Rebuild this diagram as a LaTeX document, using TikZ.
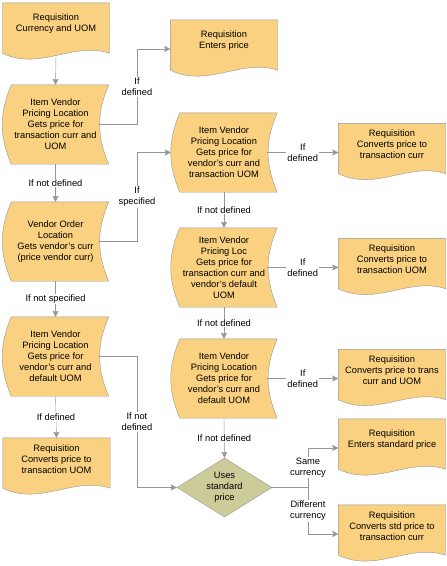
\documentclass[tikz,border=0pt]{standalone}
\usepackage{fontspec}
\setmainfont{Liberation Sans}
\usetikzlibrary{arrows.meta,shapes.geometric,backgrounds}

\definecolor{boxfill}{RGB}{250,209,128}
\definecolor{decfill}{RGB}{204,204,153}
\definecolor{edgegray}{RGB}{150,150,150}

\begin{document}
\begin{tikzpicture}[x=1pt, y=-1pt,
  every node/.style={font=\fontsize{9.3}{11}\selectfont, align=center},
  proc/.style={minimum width=106, minimum height=79, inner sep=0},
  doc/.style={minimum width=107, minimum height=42, inner sep=0},
  dec/.style={diamond, draw=edgegray, fill=decfill, minimum width=95, minimum height=59, inner sep=-1.5pt, aspect=1.6},
  lbl/.style={fill=white, inner sep=1pt},
  flow/.style={draw=edgegray, -{Stealth[length=6pt,width=6pt,inset=1pt]}},
  outline/.style={draw=edgegray, fill=boxfill}]
\useasboundingbox (0,0) rectangle (447,566);
% left column
\node[doc] (d1) at (56,24) {Requisition\\Currency and UOM};
\node[proc] (p1) at (55.5,124.5) {Item Vendor\\Pricing Location\\Gets price for\\transaction curr and\\UOM};
\node[proc] (p2) at (55.5,241.5) {Vendor Order\\Location\\Gets vendor's curr\\(price vendor curr)};
\node[proc] (p3) at (55.5,356.5) {Item Vendor\\Pricing Location\\Gets price for\\vendor's curr and\\default UOM};
\node[doc] (d8) at (56.5,459) {Requisition\\Converts price to\\transaction UOM};
% middle column
\node[doc] (d2) at (224,41) {Requisition\\Enters price};
\node[proc] (p4) at (224,152.5) {Item Vendor\\Pricing Location\\Gets price for\\vendor's curr and\\transaction UOM};
\node[proc] (p5) at (224,267.5) {Item Vendor\\Pricing Loc\\Gets price for\\transaction curr and\\vendor's default\\UOM};
\node[proc] (p6) at (224,378.5) {Item Vendor\\Pricing Location\\Gets price for\\vendor's curr and\\default UOM};
\node[dec] (dia) at (224.5,487.5) {Uses\\standard\\price};
% right column
\node[doc] (d3) at (392,144.5) {Requisition\\Converts price to\\transaction curr};
\node[doc] (d4) at (392,259.5) {Requisition\\Converts price to\\transaction UOM};
\node[doc] (d5) at (392,370.5) {Requisition\\Converts price to trans\\curr and UOM};
\node[doc] (d6) at (392,440) {Requisition\\Enters standard price};
\node[doc] (d7) at (392,526) {Requisition\\Converts std price to\\transaction curr};
\coordinate (jx) at (137,0);
\coordinate (br) at (308,0);

% shapes behind the texts
\begin{pgfonlayer}{background}
\foreach \n in {p1,p2,p3,p4,p5,p6}
  \path[outline] ([xshift=9]\n.north west) -- (\n.north east) to[bend right=23] (\n.south east)
    -- ([xshift=9]\n.south west) to[bend left=23] ([xshift=9]\n.north west) -- cycle;
\foreach \n in {d1,d2,d3,d4,d5,d6,d7,d8}
  \path[outline] (\n.north west) -- (\n.north east) -- ([yshift=-8]\n.south east)
    .. controls ([xshift=17,yshift=4]\n.south) and ([xshift=-16,yshift=-26]\n.south) .. ([yshift=-8]\n.south west) -- cycle;
\end{pgfonlayer}

% connectors
\draw[flow] ([yshift=-10]d1.south) -- (p1.north);
\draw[flow] ([xshift=-10]p1.east) -- (p1 -| jx) |- node[lbl,pos=.25] {If\\defined} ([yshift=-8]d2.west);
\draw[flow] (p1.south) -- node[lbl] {If not defined} (p2.north);
\draw[flow] ([xshift=-10]p2.east) -- (p2 -| jx) |- node[lbl,pos=.25] {If\\specified} (p4.west);
\draw[flow] (p2.south) -- node[lbl] {If not specified} (p3.north);
\draw[flow] (p3.south) -- node[lbl] {If defined} (d8.north);
\draw[flow] ([xshift=-10]p3.east) -- (p3 -| jx) |- node[lbl,pos=.25] {If not\\defined} (dia.west);
\draw[flow] ([xshift=-10]p4.east) -- node[lbl] {If\\defined} ([yshift=-8]d3.west);
\draw[flow] (p4.south) -- node[lbl] {If not defined} (p5.north);
\draw[flow] ([xshift=-10]p5.east) -- node[lbl] {If\\defined} ([yshift=-8]d4.west);
\draw[flow] (p5.south) -- node[lbl] {If not defined} (p6.north);
\draw[flow] ([xshift=-10]p6.east) -- node[lbl] {If\\defined} ([yshift=-8]d5.west);
\draw[flow] (p6.south) -- node[lbl] {If not defined} (dia.north);
\draw[flow] (dia.east) -- (dia -| br) |- node[lbl,pos=.25] {Same\\currency} ([yshift=-8]d6.west);
\draw[flow] (dia.east) -- (dia -| br) |- node[lbl,pos=.25] {Different\\currency} ([yshift=-8]d7.west);
\end{tikzpicture}
\end{document}
